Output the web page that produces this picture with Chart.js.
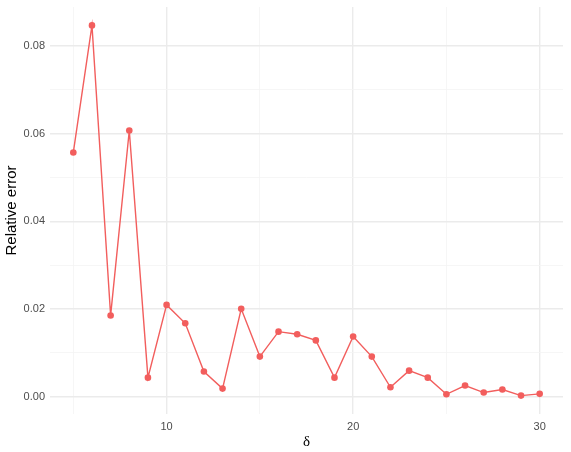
<!DOCTYPE html>
<html>
<head>
<meta charset="utf-8">
<script src="https://cdn.jsdelivr.net/npm/chart.js@4"></script>
<style>
html,body{margin:0;padding:0;background:#fff;}
#wrap{width:571px;height:452px;}
</style>
</head>
<body>
<div id="wrap"><canvas id="c" width="571" height="452"></canvas></div>
<script>
const deltas = [5,6,7,8,9,10,11,12,13,14,15,16,17,18,19,20,21,22,23,24,25,26,27,28,29,30];
const relError = [0.0557,0.0847,0.0185,0.0607,0.0043,0.0209,0.0167,0.0057,0.0018,0.0200,0.0091,0.0148,0.0142,0.0128,0.0043,0.0137,0.0091,0.0021,0.0059,0.0043,0.0005,0.0025,0.0009,0.0016,0.0002,0.0006];
const xGridTicks = [5,10,15,20,25,30];
const xLabelTicks = [10,20,30];
const yGridTicks = [0,0.01,0.02,0.03,0.04,0.05,0.06,0.07,0.08];
const yLabelTicks = [0,0.02,0.04,0.06,0.08];

const isIn = (arr,v) => arr.some(a => Math.abs(a - v) < 1e-9);

new Chart(document.getElementById('c'), {
  type: 'line',
  data: {
    datasets: [{
      data: deltas.map((d,i) => ({x: d, y: relError[i]})),
      borderColor: '#F25E5D',
      backgroundColor: '#F25E5D',
      borderWidth: 1.4,
      pointRadius: 3.3,
      pointBorderWidth: 0,
      pointHoverRadius: 3.3,
      tension: 0
    }]
  },
  options: {
    responsive: false,
    animation: false,
    devicePixelRatio: 1,
    layout: {padding: {top: 7, right: 8, left: 0, bottom: 0}},
    plugins: {legend: {display: false}, tooltip: {enabled: false}},
    scales: {
      x: {
        type: 'linear',
        min: 3.75,
        max: 31.25,
        afterBuildTicks: s => { s.ticks = xGridTicks.map(v => ({value: v})); },
        afterFit: s => { s.height = 38; s.paddingLeft = 0; s.paddingRight = 0; },
        border: {display: false},
        grid: {
          drawTicks: false,
          color: ctx => isIn(xLabelTicks, ctx.tick.value) ? '#EBEBEB' : '#F4F4F4',
          lineWidth: ctx => isIn(xLabelTicks, ctx.tick.value) ? 1.4 : 0.8
        },
        ticks: {
          autoSkip: false,
          maxRotation: 0,
          padding: 6,
          color: '#4D4D4D',
          font: {family: 'Liberation Sans, Arial, sans-serif', size: 11},
          callback: v => isIn(xLabelTicks, v) ? String(v) : ''
        },
        title: {
          display: true,
          text: 'δ',
          color: '#000',
          font: {family: 'Liberation Serif, DejaVu Serif, serif', size: 15},
          padding: {top: 0, bottom: 1}
        }
      },
      y: {
        type: 'linear',
        min: -0.004,
        max: 0.0889,
        afterBuildTicks: s => { s.ticks = yGridTicks.map(v => ({value: v})); },
        afterFit: s => { s.width = 50; s.paddingTop = 0; s.paddingBottom = 0; },
        border: {display: false},
        grid: {
          drawTicks: false,
          color: ctx => isIn(yLabelTicks, ctx.tick.value) ? '#EBEBEB' : '#F4F4F4',
          lineWidth: ctx => isIn(yLabelTicks, ctx.tick.value) ? 1.4 : 0.8
        },
        ticks: {
          autoSkip: false,
          padding: 5,
          color: '#4D4D4D',
          font: {family: 'Liberation Sans, Arial, sans-serif', size: 11},
          callback: v => isIn(yLabelTicks, v) ? v.toFixed(2) : ''
        },
        title: {
          display: true,
          text: 'Relative error',
          color: '#000',
          font: {family: 'Liberation Sans, Arial, sans-serif', size: 15},
          padding: {top: 3, bottom: 0}
        }
      }
    }
  }
});
</script>
</body>
</html>
